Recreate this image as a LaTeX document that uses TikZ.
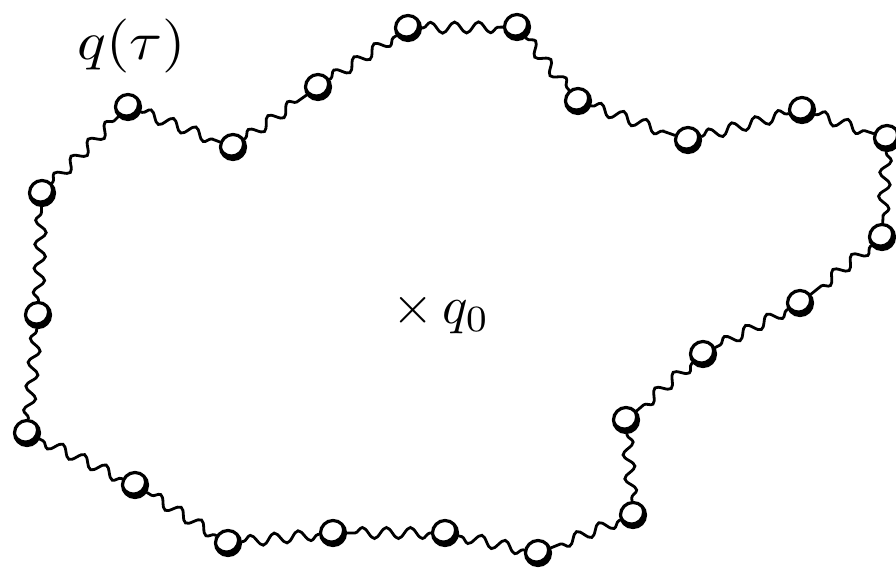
\documentclass[tikz,border=0pt]{standalone}
\usetikzlibrary{decorations.pathmorphing}
\begin{document}
\begin{tikzpicture}[x=1pt,y=-1pt,
  bead/.style={circle,draw=black,fill=white,line width=3.2pt,minimum size=25pt,inner sep=0pt,
    path picture={\fill[black,even odd rule] (path picture bounding box.center) circle (14pt)
      ([xshift=-1.5pt,yshift=3pt]path picture bounding box.center) circle (10.5pt);}},
  spring/.style={line width=2.8pt,line cap=round,decorate,
    decoration={snake,segment length=24pt,amplitude=5.5pt,pre length=1pt,post length=1pt}},
  lbl/.style={inner sep=0pt}]
\useasboundingbox (0,0) rectangle (896,569);
\foreach \n/\x/\y in {1/128/107,2/233/147,3/318/87,4/408/28,5/517/27,6/578/101,7/688/140,
  8/802/110,9/887/138,10/882/237,11/800/303,12/703/354,13/626/420,14/633/515,15/538/553,
  16/445/533,17/333/533,18/228/543,19/135/485,20/27/433,21/38/315,22/42/193}
  \node[bead] (b\n) at (\x,\y) {};
\foreach \a/\b in {1/2,2/3,3/4,4/5,5/6,6/7,7/8,8/9,9/10,10/11,11/12,12/13,13/14,14/15,
  15/16,16/17,17/18,18/19,19/20,20/21,21/22,22/1}
  \draw[spring] (b\a) -- (b\b);
\node[lbl,xscale=6,yscale=5.4] (qt) at (132,46) {$q(\tau)$};
\node[lbl,scale=5.3] (q0) at (441,313) {$\times\, q_0$};
\end{tikzpicture}
\end{document}
